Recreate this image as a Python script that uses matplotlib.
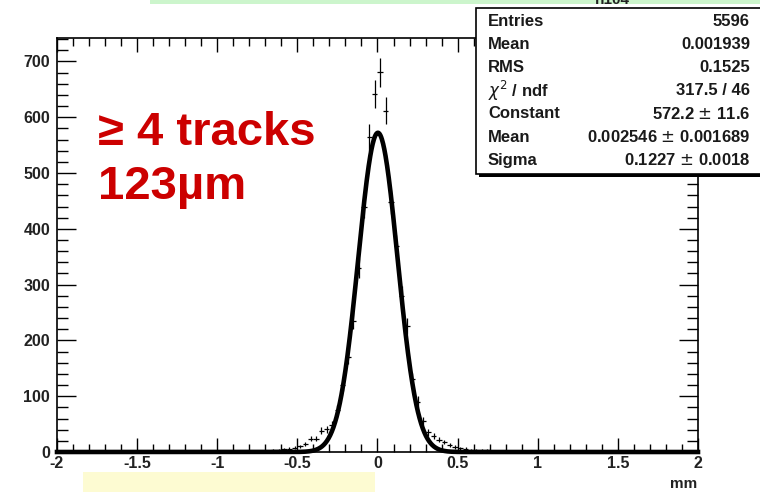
import numpy as np
import matplotlib.pyplot as plt
from matplotlib.patches import Rectangle

plt.rcParams['font.family'] = ['Liberation Sans', 'DejaVu Sans']

# histogram: 120 bins of 1/30 mm on [-2, 2], only the filled ones listed
bin_edges = np.linspace(-2, 2, 121)
first_bin = 35  # bin index of the first filled bin
counts = [1, 1, 1, 2, 2, 3, 4, 5, 6, 8, 10, 14, 24, 24, 38, 41, 48, 75, 120, 170,
          235, 330, 440, 564, 642,
          681, 612, 448, 370, 280, 226, 130, 90, 55, 35, 28, 22, 18, 12, 9,
          7, 6, 4, 4, 3, 3, 2, 2, 1, 1, 1]

# gaus fit result from stats box
fit_const = 572.2
fit_mean = 0.002546
fit_sigma = 0.1227

stat_names = ['Entries', 'Mean', 'RMS', r'$\chi^2$ / ndf', 'Constant', 'Mean', 'Sigma']
stat_vals = ['5596', '0.001939', '0.1525', '317.5 / 46', '572.2 $\\pm$ 11.6',
             '0.002546 $\\pm$ 0.001689', '0.1227 $\\pm$ 0.0018']

counts = np.array(counts, dtype=float)
lo = bin_edges[first_bin:first_bin + len(counts)]
hi = bin_edges[first_bin + 1:first_bin + 1 + len(counts)]
xc = 0.5 * (lo + hi)
bw = hi - lo

W, H = 760, 492
fig = plt.figure(figsize=(W / 100, H / 100), dpi=100)
ax = fig.add_axes([57 / W, 1 - 452 / H, (698 - 57) / W, (452 - 37.5) / H])

ax.errorbar(xc, counts, xerr=bw / 2, yerr=np.sqrt(counts), fmt='none',
            ecolor='black', elinewidth=0.9, capsize=0, zorder=3)
xf = np.linspace(-2, 2, 1601)
ax.plot(xf, fit_const * np.exp(-0.5 * ((xf - fit_mean) / fit_sigma) ** 2),
        color='black', lw=3.3, zorder=4, clip_on=False)

ax.set_xlim(-2, 2)
ax.set_ylim(0, 743)
ax.set_xticks(np.arange(-2, 2.01, 0.5))
ax.set_xticklabels(['-2', '-1.5', '-1', '-0.5', '0', '0.5', '1', '1.5', '2'])
ax.set_xticks(np.arange(-2, 2.01, 0.1), minor=True)
ax.set_yticks(np.arange(0, 701, 100))
ax.set_yticks(np.arange(0, 741, 20), minor=True)
ax.tick_params(which='both', direction='in', top=True, right=True, color='black', width=1)
ax.tick_params(axis='x', which='major', length=10)
ax.tick_params(axis='x', which='minor', length=5.5)
ax.tick_params(axis='y', which='major', length=14)
ax.tick_params(axis='y', which='minor', length=8)
ax.tick_params(axis='y', which='major', labelsize=11.5, pad=5)
ax.tick_params(axis='x', which='major', labelsize=11.5, pad=3)
for lab in ax.get_xticklabels() + ax.get_yticklabels():
    lab.set_fontweight('bold')
    lab.set_color('#222222')
for s in ax.spines.values():
    s.set_linewidth(1.2)

fig.text(697 / W, 1 - 484 / H, 'mm', ha='right', va='center', fontsize=11,
         fontweight='bold', color='#222222')

ax.text(0.064, 0.704, '\u2265 4 tracks\n123\u00b5m', transform=ax.transAxes,
        color='#cc0000', fontsize=34, fontweight='bold', va='center', ha='left',
        linespacing=1.29)

# overlay in pixel coords for stats box and slide decorations
ov = fig.add_axes([0, 0, 1, 1], zorder=10)
ov.set_xlim(0, W)
ov.set_ylim(H, 0)
ov.axis('off')
ov.patch.set_alpha(0)

ov.add_patch(Rectangle((150, 0), 610, 4, color='#ccf5cc', lw=0))
ov.add_patch(Rectangle((83, 472), 292, 20, color='#fdfbd2', lw=0))
ov.add_patch(Rectangle((479, 11), 300, 166, facecolor='black', lw=0))
ov.add_patch(Rectangle((476, 8), 300, 166, facecolor='white', edgecolor='black', lw=1.2))
ov.text(612, 7, 'h104', ha='center', va='bottom', fontsize=11, fontweight='bold',
        color='#222222')

y0, dy = 21, 23.2
for i, (nm, vl) in enumerate(zip(stat_names, stat_vals)):
    y = y0 + i * dy
    ov.text(488, y, nm, ha='left', va='center', fontsize=12, fontweight='bold',
            color='#1a1a1a')
    ov.text(750, y, vl, ha='right', va='center', fontsize=12, fontweight='bold',
            color='#1a1a1a')

fig.savefig('out.png', dpi=100)
